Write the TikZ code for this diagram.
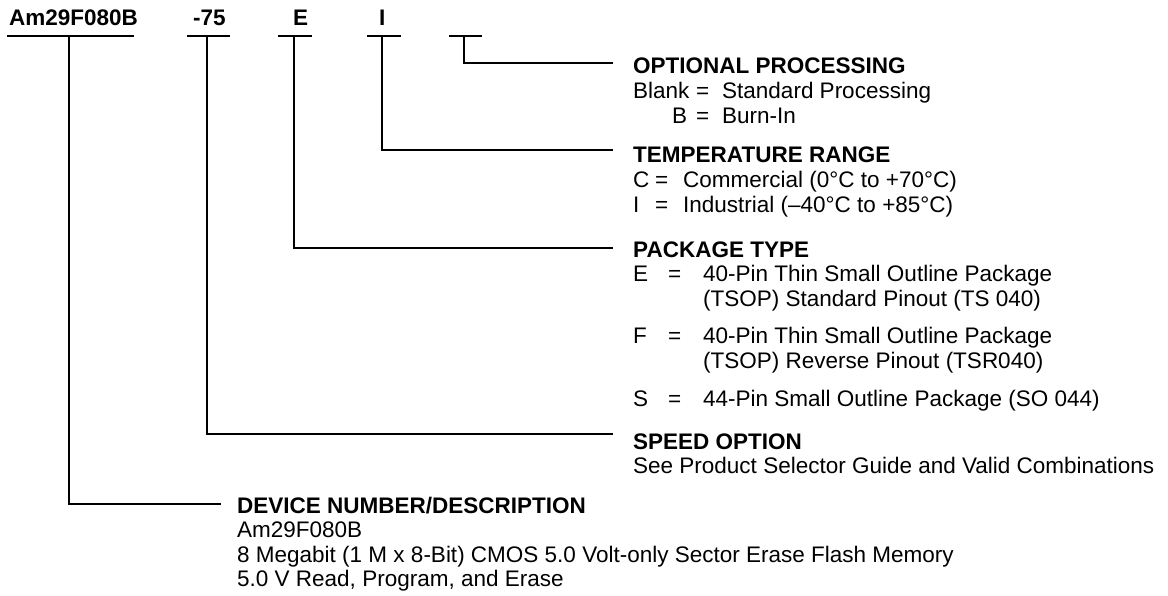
\documentclass[tikz,border=0pt]{standalone}
\usepackage{fontspec}
\setmainfont{Liberation Sans}
\begin{document}
\begin{tikzpicture}[x=1pt,y=-1pt,
  txt/.style={anchor=base west,inner sep=0pt,font=\fontsize{22.5}{25}\selectfont},
  hd/.style={txt,font=\fontsize{22.5}{25}\selectfont\bfseries},
  ln/.style={line width=2pt,line cap=butt,line join=miter}]
\useasboundingbox (0,0) rectangle (1168,595);
\fill[white] (0,0) rectangle (1168,595);
% top part-number labels
\node[hd] (lA) at (9,25) {Am29F080B};
\node[hd] (lS) at (193,25) {-75};
\node[hd] (lP) at (293,25) {E};
\node[hd] (lT) at (379,25) {I};
% underline coordinates
\coordinate (uA1) at (7,36);   \coordinate (uA2) at (134,36);
\coordinate (uS1) at (187,36); \coordinate (uS2) at (230,36);
\coordinate (uP1) at (278,36); \coordinate (uP2) at (312,36);
\coordinate (uT1) at (367,36); \coordinate (uT2) at (401,36);
\coordinate (uO1) at (449,36); \coordinate (uO2) at (482,36);
\coordinate (tA) at (69,36);
\coordinate (tS) at (207,36);
\coordinate (tP) at (294,36);
\coordinate (tT) at (382,36);
\coordinate (tO) at (464,36);
% line end coordinates
\coordinate (eO) at (613,63);
\coordinate (eT) at (613,150);
\coordinate (eP) at (613,248);
\coordinate (eS) at (613,434);
\coordinate (eA) at (221,504);
\draw[ln] (uA1) -- (uA2);
\draw[ln] (uS1) -- (uS2);
\draw[ln] (uP1) -- (uP2);
\draw[ln] (uT1) -- (uT2);
\draw[ln] (uO1) -- (uO2);
\draw[ln] (tO) |- (eO);
\draw[ln] (tT) |- (eT);
\draw[ln] (tP) |- (eP);
\draw[ln] (tS) |- (eS);
\draw[ln] (tA) |- (eA);
% optional processing
\node[hd] (hO) at (633,73) {OPTIONAL PROCESSING};
\node[txt] (oB1) at (633,98) {Blank};
\node[txt] (oE1) at (696,98) {=};
\node[txt] (oD1) at (722,98) {Standard Processing};
\node[txt] (oB2) at (672,123) {B};
\node[txt] (oE2) at (696,123) {=};
\node[txt] (oD2) at (722,123) {Burn-In};
% temperature range
\node[hd] (hT) at (633,162) {TEMPERATURE RANGE};
\node[txt] (tC1) at (633,187) {C};
\node[txt] (tE1) at (655,187) {=};
\node[txt] (tD1) at (683,187) {Commercial (0°C to +70°C)};
\node[txt] (tC2) at (633,212) {I};
\node[txt] (tE2) at (655,212) {=};
\node[txt] (tD2) at (683,212) {Industrial (--40°C to +85°C)};
% package type
\node[hd] (hP) at (633,257) {PACKAGE TYPE};
\node[txt] (pC1) at (633,281) {E};
\node[txt] (pE1) at (668,281) {=};
\node[txt] (pD1) at (703,281) {40-Pin Thin Small Outline Package};
\node[txt] (pD1b) at (703,306) {(TSOP) Standard Pinout (TS 040)};
\node[txt] (pC2) at (633,343) {F};
\node[txt] (pE2) at (668,343) {=};
\node[txt] (pD2) at (703,343) {40-Pin Thin Small Outline Package};
\node[txt] (pD2b) at (703,368) {(TSOP) Reverse Pinout (TSR040)};
\node[txt] (pC3) at (633,406) {S};
\node[txt] (pE3) at (668,406) {=};
\node[txt] (pD3) at (703,406) {44-Pin Small Outline Package (SO 044)};
% speed option
\node[hd] (hS) at (633,449) {SPEED OPTION};
\node[txt] (sD) at (633,473) {See Product Selector Guide and Valid Combinations};
% device number
\node[hd] (hA) at (237,513) {DEVICE NUMBER/DESCRIPTION};
\node[txt] (aD1) at (237,537) {Am29F080B};
\node[txt] (aD2) at (237,562) {8 Megabit (1 M x 8-Bit) CMOS 5.0 Volt-only Sector Erase Flash Memory};
\node[txt] (aD3) at (237,586) {5.0 V Read, Program, and Erase};
\end{tikzpicture}
\end{document}
